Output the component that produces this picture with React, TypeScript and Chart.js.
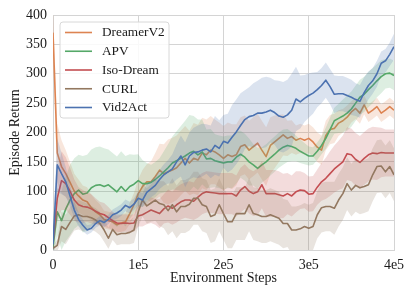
import { useEffect, useRef } from 'react';
import { Chart, registerables } from 'chart.js';

Chart.register(...registerables);

// Evaluation steps (every 5000 environment steps, 0 .. 400k)
const STEPS: number[] = Array.from({ length: 81 }, (_, i) => i * 5000);

const X_TICKS = [0, 100000, 200000, 300000, 400000];
const X_TICK_LABELS = ['0', '1e5', '2e5', '3e5', '4e5'];
const Y_TICKS = [0, 50, 100, 150, 200, 250, 300, 350, 400];

const SERIES_NAMES = ['DreamerV2', 'APV', 'Iso-Dream', 'CURL', 'Vid2Act'];

const DREAMERV2_MEAN = [
  370, 165, 142, 130, 115, 100, 92, 85, 82, 72,
  65, 60, 52, 50, 48, 43, 46, 48, 62, 77,
  96, 108, 116, 116, 125, 136, 130, 133, 136, 140,
  148, 156, 148, 156, 153, 165, 162, 170, 167, 162,
  156, 162, 159, 162, 176, 179, 170, 176, 182, 170,
  159, 178, 184, 190, 196, 190, 193, 187, 190, 187,
  190, 184, 175, 170, 195, 205, 207, 216, 220, 226,
  235, 241, 233, 247, 233, 238, 244, 233, 238, 244, 238,
];
const DREAMERV2_STD = [
  40, 50, 45, 40, 35, 30, 28, 25, 25, 22,
  20, 18, 15, 15, 15, 15, 15, 15, 18, 20,
  25, 28, 30, 35, 40, 45, 50, 55, 55, 55,
  55, 55, 55, 60, 60, 60, 60, 58, 55, 55,
  55, 55, 55, 52, 50, 50, 50, 50, 50, 50,
  50, 48, 45, 40, 35, 30, 28, 25, 25, 25,
  25, 25, 25, 25, 25, 25, 25, 22, 20, 20,
  18, 18, 18, 16, 15, 15, 15, 15, 15, 15, 15,
];

const APV_MEAN = [
  5, 65, 50, 70, 85, 96, 102, 95, 97, 106,
  110, 111, 108, 111, 105, 99, 108, 100, 108, 112,
  118, 113, 113, 115, 120, 126, 133, 140, 148, 152,
  156, 160, 165, 168, 162, 167, 155, 156, 152, 150,
  148, 150, 150, 158, 163, 158, 150, 145, 139, 145,
  150, 157, 163, 170, 175, 178, 176, 173, 168, 164,
  160, 160, 168, 178, 190, 205, 220, 224, 228, 233,
  240, 250, 260, 265, 273, 280, 288, 295, 300, 301, 297,
];
const APV_STD = [
  20, 40, 50, 55, 60, 60, 60, 65, 65, 65,
  65, 65, 65, 60, 60, 60, 60, 60, 55, 50,
  45, 40, 35, 30, 30, 30, 35, 40, 45, 50,
  55, 60, 65, 60, 60, 55, 50, 50, 45, 45,
  45, 45, 45, 45, 40, 40, 40, 35, 35, 30,
  30, 30, 30, 30, 30, 28, 25, 22, 20, 18,
  16, 15, 15, 15, 18, 20, 22, 25, 28, 30,
  30, 30, 30, 30, 30, 30, 28, 28, 25, 25, 25,
];

const ISODREAM_MEAN = [
  15, 88, 118, 113, 100, 85, 77, 74, 73, 70,
  66, 62, 60, 55, 50, 46, 45, 46, 45, 46,
  58, 60, 64, 68, 65, 62, 70, 75, 71, 77,
  82, 85, 85, 83, 90, 96, 99, 98, 97, 96,
  96, 96, 96, 92, 102, 108, 100, 96, 99, 111,
  96, 96, 96, 94, 92, 96, 92, 99, 102, 101,
  95, 96, 107, 116, 122, 130, 138, 144, 150, 164,
  162, 154, 149, 156, 162, 165, 164, 166, 165, 165, 165,
];
const ISODREAM_STD = [
  15, 40, 50, 45, 40, 35, 30, 28, 25, 25,
  22, 20, 20, 18, 15, 15, 15, 15, 15, 15,
  18, 20, 20, 22, 22, 25, 25, 28, 28, 30,
  30, 30, 32, 32, 35, 35, 35, 35, 35, 35,
  35, 35, 35, 35, 38, 38, 38, 38, 40, 40,
  40, 40, 40, 40, 38, 35, 35, 35, 32, 30,
  30, 30, 30, 32, 35, 38, 40, 42, 45, 45,
  45, 45, 45, 45, 45, 45, 45, 42, 40, 40, 40,
];

const CURL_MEAN = [
  3, 8, 40, 35, 47, 58, 60, 57, 57, 55,
  51, 45, 34, 20, 35, 26, 28, 28, 30, 34,
  65, 85, 75, 80, 85, 79, 77, 67, 77, 65,
  74, 74, 78, 88, 88, 77, 74, 57, 60, 77,
  62, 48, 48, 62, 62, 62, 77, 62, 60, 57,
  57, 60, 57, 54, 45, 45, 34, 34, 36, 40,
  37, 40, 60, 72, 74, 74, 71, 85, 96, 113,
  102, 110, 106, 108, 111, 128, 142, 143, 133, 142, 128,
];
const CURL_STD = [
  5, 10, 25, 25, 25, 25, 25, 25, 22, 20,
  20, 20, 20, 18, 18, 18, 18, 18, 20, 22,
  25, 28, 30, 32, 35, 38, 40, 42, 45, 45,
  45, 45, 45, 45, 45, 45, 45, 45, 45, 45,
  45, 45, 45, 45, 45, 45, 45, 45, 45, 45,
  45, 45, 45, 45, 42, 40, 40, 40, 40, 40,
  40, 40, 40, 42, 42, 42, 45, 45, 45, 45,
  45, 45, 45, 45, 45, 45, 45, 45, 45, 45, 45,
];

const VID2ACT_MEAN = [
  10, 145, 130, 116, 92, 68, 52, 42, 34, 37,
  45, 50, 47, 52, 60, 63, 68, 76, 72, 78,
  88, 85, 98, 104, 110, 120, 128, 133, 138, 150,
  160, 145, 160, 166, 167, 170, 172, 167, 178, 173,
  185, 182, 192, 201, 212, 222, 227, 229, 233, 233,
  235, 238, 234, 228, 226, 230, 238, 257, 252, 258,
  263, 267, 273, 280, 289, 278, 265, 266, 266, 263,
  260, 256, 253, 268, 280, 288, 300, 318, 322, 333, 346,
];
const VID2ACT_STD = [
  30, 45, 35, 25, 18, 14, 12, 10, 8, 7,
  7, 8, 8, 8, 9, 10, 10, 10, 10, 10,
  12, 12, 14, 14, 15, 16, 18, 20, 25, 30,
  35, 38, 40, 42, 45, 45, 42, 45, 50, 48,
  45, 50, 55, 55, 55, 50, 50, 55, 55, 60,
  60, 55, 55, 60, 60, 60, 62, 55, 45, 40,
  38, 35, 30, 30, 30, 30, 32, 30, 30, 30,
  30, 28, 28, 26, 24, 22, 22, 20, 20, 20, 22,
];

const MEANS = [DREAMERV2_MEAN, APV_MEAN, ISODREAM_MEAN, CURL_MEAN, VID2ACT_MEAN];
const STDS = [DREAMERV2_STD, APV_STD, ISODREAM_STD, CURL_STD, VID2ACT_STD];
const COLORS: [number, number, number][] = [
  [221, 132, 82],
  [85, 168, 104],
  [196, 78, 82],
  [147, 120, 96],
  [76, 114, 176],
];

const FONT_FAMILY = "'Liberation Serif', 'Times New Roman', Times, serif";
const TEXT_COLOR = '#1a1a1a';
const GRID_COLOR = '#d4d4d4';

const rgba = (c: [number, number, number], a: number) => `rgba(${c[0]},${c[1]},${c[2]},${a})`;

const boxLegend = {
  id: 'boxLegend',
  afterDatasetsDraw(chart: any) {
    const { ctx, chartArea } = chart;
    const x0 = chartArea.left + 7;
    const y0 = chartArea.top + 7;
    const w = 109;
    const h = 96;
    const r = 3;
    ctx.save();
    ctx.beginPath();
    ctx.moveTo(x0 + r, y0);
    ctx.lineTo(x0 + w - r, y0);
    ctx.arcTo(x0 + w, y0, x0 + w, y0 + r, r);
    ctx.lineTo(x0 + w, y0 + h - r);
    ctx.arcTo(x0 + w, y0 + h, x0 + w - r, y0 + h, r);
    ctx.lineTo(x0 + r, y0 + h);
    ctx.arcTo(x0, y0 + h, x0, y0 + h - r, r);
    ctx.lineTo(x0, y0 + r);
    ctx.arcTo(x0, y0, x0 + r, y0, r);
    ctx.closePath();
    ctx.fillStyle = 'rgba(255,255,255,0.85)';
    ctx.fill();
    ctx.strokeStyle = '#d8d8d8';
    ctx.lineWidth = 1;
    ctx.stroke();
    ctx.font = `13.3px ${FONT_FAMILY}`;
    ctx.textBaseline = 'middle';
    ctx.textAlign = 'left';
    SERIES_NAMES.forEach((name, i) => {
      const y = y0 + 10.5 + i * 18.75;
      ctx.strokeStyle = rgba(COLORS[i], 1);
      ctx.lineWidth = 1.6;
      ctx.beginPath();
      ctx.moveTo(x0 + 5, y);
      ctx.lineTo(x0 + 32, y);
      ctx.stroke();
      ctx.fillStyle = TEXT_COLOR;
      ctx.fillText(name, x0 + 42, y + 0.5);
    });
    ctx.restore();
  },
};

export default function App() {
  const canvasRef = useRef<HTMLCanvasElement | null>(null);

  useEffect(() => {
    const canvas = canvasRef.current;
    if (!canvas) return;
    const datasets: any[] = [];
    MEANS.forEach((mean, k) => {
      const std = STDS[k];
      const base = (4 - k) * 10;
      datasets.push({
        label: SERIES_NAMES[k] + ' lower',
        data: STEPS.map((x, i) => ({ x, y: mean[i] - std[i] })),
        borderWidth: 0,
        borderColor: 'rgba(0,0,0,0)',
        pointRadius: 0,
        fill: false,
        order: base + 2,
      });
      datasets.push({
        label: SERIES_NAMES[k] + ' upper',
        data: STEPS.map((x, i) => ({ x, y: mean[i] + std[i] })),
        borderWidth: 0,
        borderColor: 'rgba(0,0,0,0)',
        backgroundColor: rgba(COLORS[k], 0.2),
        pointRadius: 0,
        fill: '-1',
        order: base + 1,
      });
      datasets.push({
        label: SERIES_NAMES[k],
        data: STEPS.map((x, i) => ({ x, y: mean[i] })),
        borderWidth: 1.6,
        borderColor: rgba(COLORS[k], 1),
        pointRadius: 0,
        fill: false,
        tension: 0,
        order: base,
      });
    });

    const chart = new Chart(canvas, {
      type: 'line',
      data: { datasets },
      options: {
        responsive: false,
        animation: false,
        events: [],
        layout: { padding: { top: 15, right: 21, left: 0, bottom: 0 } },
        plugins: {
          legend: { display: false },
          tooltip: { enabled: false },
        },
        elements: { point: { radius: 0 }, line: { borderJoinStyle: 'round' } },
        scales: {
          x: {
            type: 'linear',
            min: 0,
            max: 400000,
            afterBuildTicks: (s: any) => {
              s.ticks = X_TICKS.map((v) => ({ value: v }));
            },
            afterFit: (s: any) => {
              s.height = 47;
            },
            ticks: {
              autoSkip: false,
              maxRotation: 0,
              padding: 7,
              color: TEXT_COLOR,
              font: { family: FONT_FAMILY, size: 14 },
              callback: (v: any) => {
                const idx = X_TICKS.indexOf(Number(v));
                return idx >= 0 ? X_TICK_LABELS[idx] : '';
              },
            },
            grid: { color: GRID_COLOR, lineWidth: 1, drawTicks: false },
            border: { color: GRID_COLOR, width: 1 },
            title: {
              display: true,
              text: 'Environment Steps',
              color: TEXT_COLOR,
              font: { family: FONT_FAMILY, size: 14 },
              padding: { top: 0, bottom: 10.5 },
            },
          },
          y: {
            type: 'linear',
            min: 0,
            max: 400,
            afterBuildTicks: (s: any) => {
              s.ticks = Y_TICKS.map((v) => ({ value: v }));
            },
            afterFit: (s: any) => {
              s.width = 53;
            },
            ticks: {
              padding: 6,
              color: TEXT_COLOR,
              font: { family: FONT_FAMILY, size: 14 },
            },
            grid: { color: GRID_COLOR, lineWidth: 1, drawTicks: false },
            border: { color: GRID_COLOR, width: 1 },
            title: {
              display: true,
              text: 'Episode Return',
              color: TEXT_COLOR,
              font: { family: FONT_FAMILY, size: 14 },
              padding: { top: 6.6, bottom: 0 },
            },
          },
        },
      },
      plugins: [boxLegend],
    });
    return () => chart.destroy();
  }, []);

  return (
    <div style={{ position: 'fixed', left: 0, top: 0, width: 415, height: 297, background: '#fff' }}>
      <canvas ref={canvasRef} width={415} height={297} style={{ display: 'block' }} />
    </div>
  );
}
